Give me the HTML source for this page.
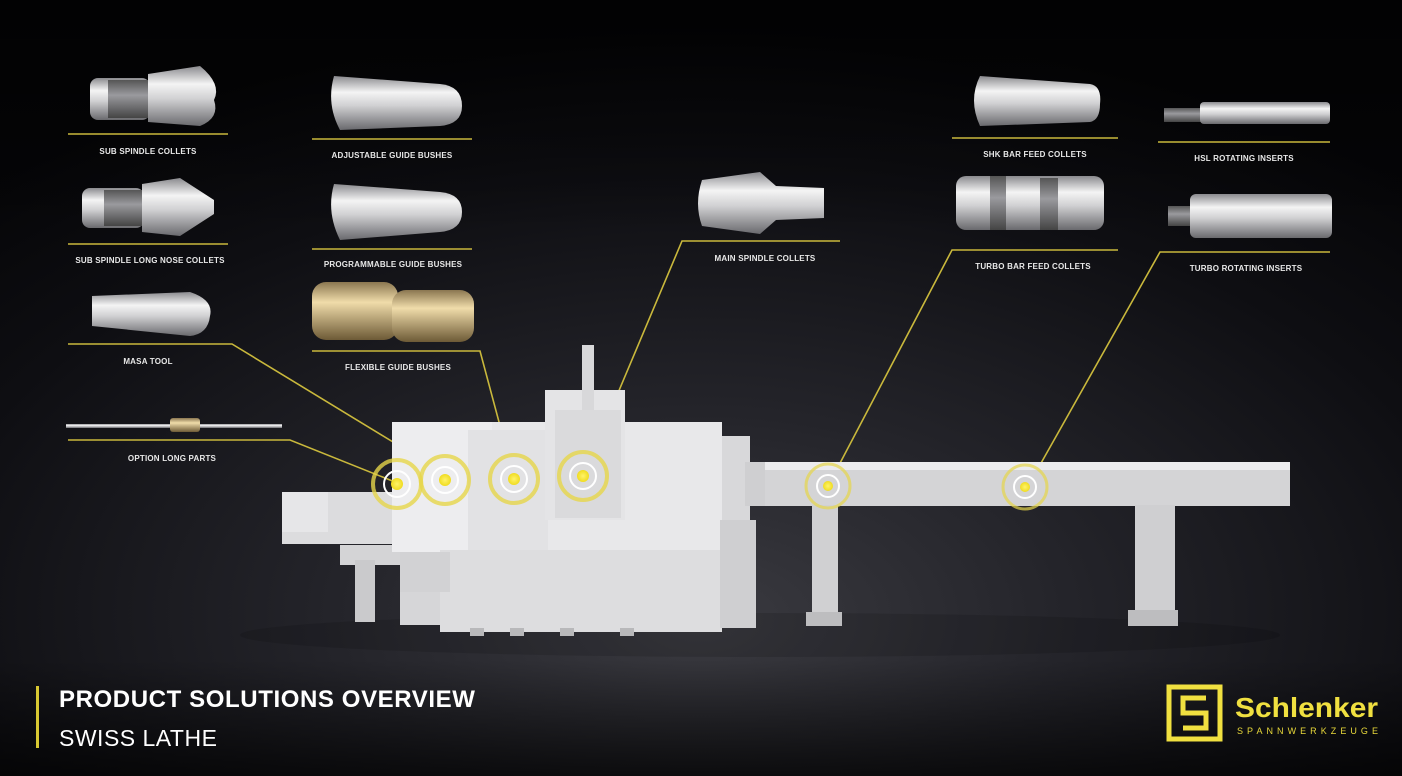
<!DOCTYPE html>
<html><head><meta charset="utf-8"><style>
html,body{margin:0;padding:0;background:#000;}
svg{display:block}
text{font-family:"Liberation Sans",sans-serif;}
.lb{font-size:8px;font-weight:bold;fill:#e8e8e8;text-anchor:middle;letter-spacing:0.2px}
</style></head><body>
<svg width="1402" height="776" viewBox="0 0 1402 776" xmlns="http://www.w3.org/2000/svg">
<defs>
<radialGradient id="bg" cx="0.5" cy="0.78" r="0.75" fx="0.5" fy="0.8">
<stop offset="0" stop-color="#3a3a40"/><stop offset="0.35" stop-color="#24242a"/><stop offset="0.75" stop-color="#0e0e12"/><stop offset="1" stop-color="#050507"/>
</radialGradient>
<linearGradient id="top" x1="0" y1="0" x2="0" y2="1"><stop offset="0" stop-color="#000" stop-opacity="0.6"/><stop offset="0.3" stop-color="#000" stop-opacity="0"/><stop offset="0.85" stop-color="#000" stop-opacity="0"/><stop offset="1" stop-color="#000" stop-opacity="0.7"/></linearGradient>
<linearGradient id="m" x1="0" y1="0" x2="0" y2="1"><stop offset="0" stop-color="#8a8a8e"/><stop offset="0.3" stop-color="#f4f4f4"/><stop offset="0.55" stop-color="#d0d0d2"/><stop offset="1" stop-color="#6a6a6e"/></linearGradient>
<linearGradient id="md" x1="0" y1="0" x2="0" y2="1"><stop offset="0" stop-color="#555"/><stop offset="0.4" stop-color="#9a9a9e"/><stop offset="1" stop-color="#444"/></linearGradient>
<linearGradient id="br" x1="0" y1="0" x2="0" y2="1"><stop offset="0" stop-color="#8a7650"/><stop offset="0.35" stop-color="#f0dcaa"/><stop offset="1" stop-color="#6d5a36"/></linearGradient>
<radialGradient id="dot"><stop offset="0" stop-color="#fff36a"/><stop offset="1" stop-color="#f0dc20"/></radialGradient>
</defs>
<rect width="1402" height="776" fill="url(#bg)"/>
<rect width="1402" height="776" fill="url(#top)"/>

<g>
<rect x="90" y="78" width="60" height="42" rx="8" fill="url(#m)"/><rect x="108" y="80" width="40" height="38" fill="url(#md)"/>
<path d="M148 74 L200 66 Q222 84 214 100 Q220 118 200 126 L148 122 Z" fill="url(#m)"/>
<rect x="82" y="188" width="62" height="40" rx="8" fill="url(#m)"/><rect x="104" y="190" width="40" height="36" fill="url(#md)"/>
<path d="M142 184 L180 178 L214 200 L214 214 L180 236 L142 232 Z" fill="url(#m)"/>
<path d="M92 296 L190 292 Q214 300 210 316 Q208 334 190 336 L92 326 Z" fill="url(#m)"/>
<rect x="66" y="424" width="216" height="4" fill="url(#m)"/><rect x="170" y="418" width="30" height="14" rx="3" fill="url(#br)"/>
<path d="M334 76 L440 84 Q462 86 462 106 Q462 124 440 126 L340 130 Q326 104 334 76 Z" fill="url(#m)"/>
<path d="M334 184 L440 192 Q462 194 462 212 Q462 230 440 232 L340 240 Q326 212 334 184 Z" fill="url(#m)"/>
<rect x="312" y="282" width="86" height="58" rx="14" fill="url(#br)"/><rect x="392" y="290" width="82" height="52" rx="14" fill="url(#br)"/>
<path d="M702 180 L760 172 L776 186 L824 188 L824 218 L776 220 L760 234 L702 226 Q694 204 702 180 Z" fill="url(#m)"/>
<path d="M980 76 L1090 84 Q1102 86 1100 104 Q1100 120 1090 122 L980 126 Q968 100 980 76 Z" fill="url(#m)"/>
<rect x="956" y="176" width="148" height="54" rx="10" fill="url(#m)"/><rect x="990" y="176" width="16" height="54" fill="url(#md)"/><rect x="1040" y="178" width="18" height="52" fill="url(#md)"/>
<rect x="1164" y="108" width="40" height="14" fill="url(#md)"/><rect x="1200" y="102" width="130" height="22" rx="4" fill="url(#m)"/>
<rect x="1168" y="206" width="30" height="20" fill="url(#md)"/><rect x="1190" y="194" width="142" height="44" rx="6" fill="url(#m)"/>
</g>

<g stroke="#c9b83c" stroke-width="1.6" fill="none">
<line x1="68" y1="134" x2="228" y2="134"/>
<line x1="68" y1="244" x2="228" y2="244"/>
<polyline points="68,344 232,344 398,445"/>
<polyline points="68,440 290,440 395,482"/>
<line x1="312" y1="139" x2="472" y2="139"/>
<line x1="312" y1="249" x2="472" y2="249"/>
<polyline points="312,351 480,351 514,478"/>
<polyline points="840,241 682,241 583,476"/>
<line x1="952" y1="138" x2="1118" y2="138"/>
<polyline points="1118,250 952,250 828,486"/>
<line x1="1158" y1="142" x2="1330" y2="142"/>
<polyline points="1330,252 1160,252 1027,488"/>
</g>

<text class="lb" x="148" y="154">SUB SPINDLE COLLETS</text>
<text class="lb" x="150" y="263">SUB SPINDLE LONG NOSE COLLETS</text>
<text class="lb" x="148" y="364">MASA TOOL</text>
<text class="lb" x="172" y="461">OPTION LONG PARTS</text>
<text class="lb" x="392" y="158">ADJUSTABLE GUIDE BUSHES</text>
<text class="lb" x="393" y="267">PROGRAMMABLE GUIDE BUSHES</text>
<text class="lb" x="398" y="370">FLEXIBLE GUIDE BUSHES</text>
<text class="lb" x="765" y="261">MAIN SPINDLE COLLETS</text>
<text class="lb" x="1035" y="157">SHK BAR FEED COLLETS</text>
<text class="lb" x="1033" y="269">TURBO BAR FEED COLLETS</text>
<text class="lb" x="1244" y="161">HSL ROTATING INSERTS</text>
<text class="lb" x="1246" y="271">TURBO ROTATING INSERTS</text>

<g>
<ellipse cx="760" cy="635" rx="520" ry="22" fill="#000" opacity="0.12"/>
<rect x="760" y="462" width="530" height="44" fill="#d4d4d6"/>
<rect x="760" y="462" width="530" height="8" fill="#ececee"/>
<rect x="812" y="505" width="26" height="120" fill="#d0d0d2"/>
<rect x="1135" y="505" width="40" height="120" fill="#cfcfd1"/>
<rect x="1128" y="610" width="50" height="16" fill="#bdbdbf"/>
<rect x="806" y="612" width="36" height="14" fill="#bdbdbf"/>
<rect x="700" y="436" width="50" height="90" fill="#d8d8da"/>
<rect x="745" y="462" width="20" height="44" fill="#cfcfd1"/>
<rect x="282" y="492" width="116" height="52" fill="#dcdcde"/>
<rect x="282" y="492" width="46" height="40" fill="#e6e6e8"/>
<rect x="340" y="545" width="60" height="20" fill="#d4d4d6"/>
<rect x="355" y="560" width="20" height="62" fill="#cacacc"/>
<rect x="400" y="585" width="40" height="40" fill="#d6d6d8"/>
<rect x="392" y="422" width="330" height="130" fill="#e8e8ea"/>
<rect x="392" y="422" width="100" height="130" fill="#ededef"/>
<rect x="468" y="430" width="80" height="122" fill="#e2e2e4"/>
<rect x="440" y="550" width="282" height="82" fill="#dddddf"/>
<rect x="400" y="552" width="50" height="40" fill="#d2d2d4"/>
<rect x="720" y="520" width="36" height="108" fill="#cfcfd1"/>
<rect x="545" y="390" width="80" height="130" fill="#e4e4e6"/>
<rect x="555" y="410" width="66" height="108" fill="#dadadc"/>
<rect x="582" y="345" width="12" height="65" fill="#d8d8da"/>
<g fill="#b8b8ba"><rect x="470" y="628" width="14" height="8"/><rect x="510" y="628" width="14" height="8"/><rect x="560" y="628" width="14" height="8"/><rect x="620" y="628" width="14" height="8"/></g>
</g>

<g>
<g transform="translate(397,484)"><circle r="24" fill="none" stroke="#e6d64a" stroke-width="4" opacity="0.8"/><circle r="13" fill="none" stroke="#fff" stroke-width="2"/><circle r="6" fill="url(#dot)"/></g>
<g transform="translate(445,480)"><circle r="24" fill="none" stroke="#e6d64a" stroke-width="4" opacity="0.8"/><circle r="13" fill="none" stroke="#fff" stroke-width="2"/><circle r="6" fill="url(#dot)"/></g>
<g transform="translate(514,479)"><circle r="24" fill="none" stroke="#e6d64a" stroke-width="4" opacity="0.8"/><circle r="13" fill="none" stroke="#fff" stroke-width="2"/><circle r="6" fill="url(#dot)"/></g>
<g transform="translate(583,476)"><circle r="24" fill="none" stroke="#e6d64a" stroke-width="4" opacity="0.8"/><circle r="13" fill="none" stroke="#fff" stroke-width="2"/><circle r="6" fill="url(#dot)"/></g>
<g transform="translate(828,486)"><circle r="22" fill="none" stroke="#e6d64a" stroke-width="3" opacity="0.7"/><circle r="11" fill="none" stroke="#fff" stroke-width="2"/><circle r="5" fill="url(#dot)"/></g>
<g transform="translate(1025,487)"><circle r="22" fill="none" stroke="#e6d64a" stroke-width="3" opacity="0.7"/><circle r="11" fill="none" stroke="#fff" stroke-width="2"/><circle r="5" fill="url(#dot)"/></g>
</g>

<rect x="36" y="686" width="3" height="62" fill="#d8c832"/>
<text x="59" y="707" font-size="24" font-weight="bold" fill="#fff" letter-spacing="0.6">PRODUCT SOLUTIONS OVERVIEW</text>
<text x="59" y="746" font-size="23" fill="#fff" letter-spacing="0.5">SWISS LATHE</text>

<g>
<rect x="1169" y="687" width="51" height="52" fill="none" stroke="#f0e040" stroke-width="5"/>
<path d="M1206 698 H1183 V713 H1206 V728 H1183" fill="none" stroke="#f0e040" stroke-width="5"/>
<text x="1235" y="717" font-size="28" font-weight="bold" fill="#f0e040" textLength="143" lengthAdjust="spacingAndGlyphs">Schlenker</text>
<text x="1237" y="734" font-size="9" fill="#e8d83a" textLength="141" lengthAdjust="spacing">SPANNWERKZEUGE</text>
</g>
</svg>
</body></html>
